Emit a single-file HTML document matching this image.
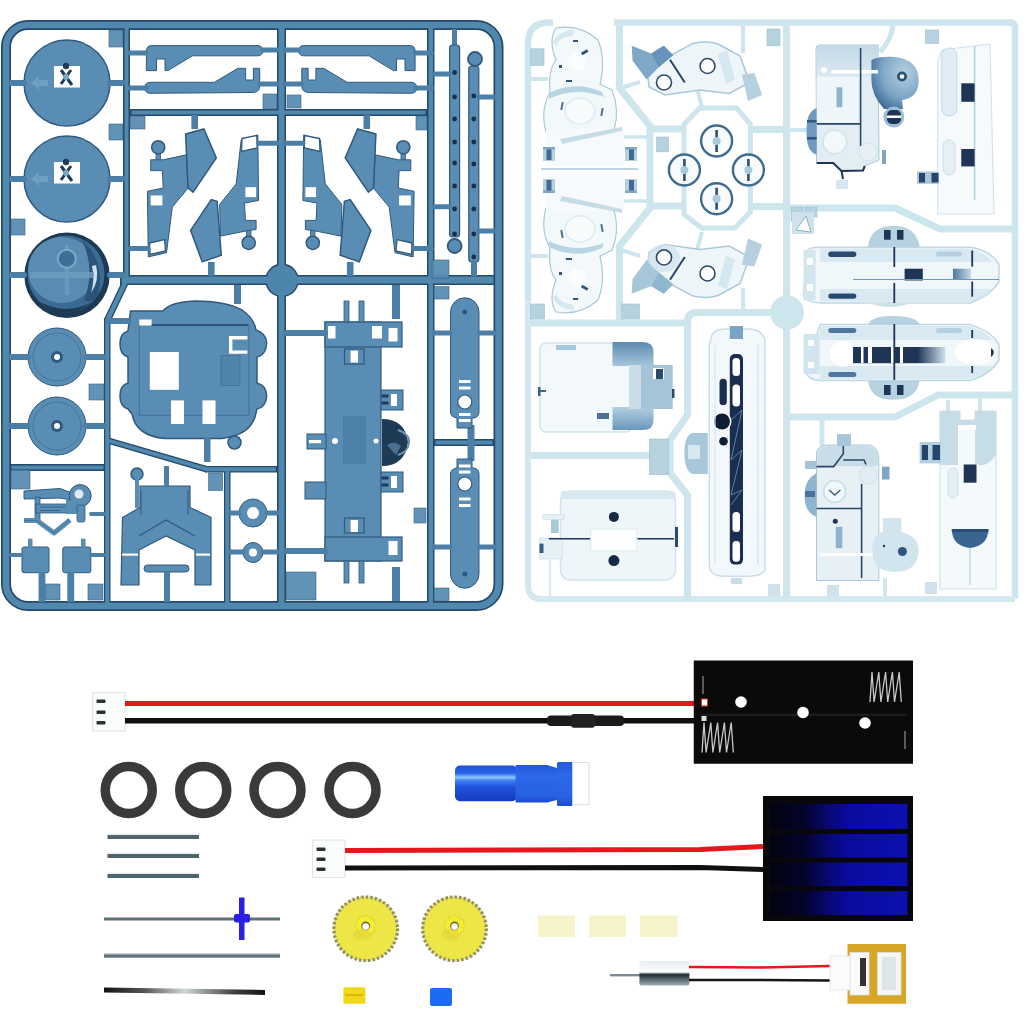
<!DOCTYPE html>
<html><head><meta charset="utf-8"><style>
html,body{margin:0;padding:0;background:#fff;}
body{width:1024px;height:1024px;overflow:hidden;font-family:"Liberation Sans",sans-serif;}
svg{display:block;}
</style></head><body>
<svg width="1024" height="1024" viewBox="0 0 1024 1024">
<rect width="1024" height="1024" fill="#fff"/>
<g id="blue">
<rect x="6" y="25" width="492.5" height="581" rx="22" fill="none" stroke="#24496a" stroke-width="10"/>
<rect x="123" y="25" width="7" height="255" fill="#24496a"/>
<rect x="104" y="318" width="6.5" height="288" fill="#24496a"/>
<rect x="120" y="275" width="375" height="10" fill="#24496a"/>
<rect x="130" y="109" width="297" height="7" fill="#24496a"/>
<rect x="277" y="25" width="9" height="581" fill="#24496a"/>
<rect x="427" y="25" width="7.5" height="581" fill="#24496a"/>
<rect x="434" y="439" width="60" height="7" fill="#24496a"/>
<rect x="10" y="464" width="95" height="7" fill="#24496a"/>
<rect x="205" y="466" width="72" height="6.5" fill="#24496a"/>
<rect x="224" y="470" width="6.5" height="136" fill="#24496a"/>
<line x1="126.5" y1="280" x2="107" y2="321" stroke="#24496a" stroke-width="7"/>
<line x1="108" y1="440.5" x2="207" y2="469.3" stroke="#24496a" stroke-width="6.5"/>
<circle cx="282" cy="280.3" r="16.8" fill="#24496a"/>
<rect x="6" y="25" width="492.5" height="581" rx="22" fill="none" stroke="#5088ae" stroke-width="6.6"/>
<rect x="124.5" y="26.5" width="4.0" height="252.0" fill="#5088ae"/>
<rect x="105.2" y="319.2" width="4.1" height="285.6" fill="#5088ae"/>
<rect x="121.5" y="276.5" width="372.0" height="7.0" fill="#5088ae"/>
<rect x="131.5" y="110.5" width="294.0" height="4.0" fill="#5088ae"/>
<rect x="278.5" y="26.5" width="6.0" height="578.0" fill="#5088ae"/>
<rect x="428.5" y="26.5" width="4.5" height="578.0" fill="#5088ae"/>
<rect x="435.5" y="440.5" width="57.0" height="4.0" fill="#5088ae"/>
<rect x="11.5" y="465.5" width="92.0" height="4.0" fill="#5088ae"/>
<rect x="206.2" y="467.2" width="69.6" height="4.1" fill="#5088ae"/>
<rect x="225.2" y="471.2" width="4.1" height="133.6" fill="#5088ae"/>
<line x1="126.5" y1="280" x2="107" y2="321" stroke="#5088ae" stroke-width="4.4"/>
<line x1="108" y1="440.5" x2="207" y2="469.3" stroke="#5088ae" stroke-width="3.9"/>
<circle cx="282" cy="280.3" r="15.4" fill="#4d85ab"/>
<rect x="109" y="30" width="14" height="17" fill="#5a8db3" stroke="#2f5a7e" stroke-width="0.6" opacity="0.95"/>
<rect x="109" y="124" width="14" height="16" fill="#5a8db3" stroke="#2f5a7e" stroke-width="0.6" opacity="0.95"/>
<rect x="11" y="219" width="14" height="16" fill="#5a8db3" stroke="#2f5a7e" stroke-width="0.6" opacity="0.95"/>
<rect x="89" y="384" width="15" height="16" fill="#5a8db3" stroke="#2f5a7e" stroke-width="0.6" opacity="0.95"/>
<rect x="130" y="116" width="15" height="13" fill="#5a8db3" stroke="#2f5a7e" stroke-width="0.6" opacity="0.95"/>
<rect x="263" y="94" width="14" height="15" fill="#5a8db3" stroke="#2f5a7e" stroke-width="0.6" opacity="0.95"/>
<rect x="287" y="95" width="14" height="13" fill="#5a8db3" stroke="#2f5a7e" stroke-width="0.6" opacity="0.95"/>
<rect x="11" y="470" width="19" height="19" fill="#5a8db3" stroke="#2f5a7e" stroke-width="0.6" opacity="0.95"/>
<rect x="45" y="584" width="15" height="16" fill="#5a8db3" stroke="#2f5a7e" stroke-width="0.6" opacity="0.95"/>
<rect x="88" y="584" width="15" height="16" fill="#5a8db3" stroke="#2f5a7e" stroke-width="0.6" opacity="0.95"/>
<rect x="286" y="572" width="30" height="28" fill="#5a8db3" stroke="#2f5a7e" stroke-width="0.6" opacity="0.95"/>
<rect x="414" y="508" width="12" height="15" fill="#5a8db3" stroke="#2f5a7e" stroke-width="0.6" opacity="0.95"/>
<rect x="436" y="30" width="0" height="0" fill="#5a8db3" stroke="#2f5a7e" stroke-width="0.6" opacity="0.95"/>
<rect x="416" y="116" width="11" height="14" fill="#5a8db3" stroke="#2f5a7e" stroke-width="0.6" opacity="0.95"/>
<circle cx="67" cy="83" r="43" fill="#5a8db3" stroke="#2f5a7e" stroke-width="1.5"/>
<rect x="54" y="66" width="26" height="21.5" fill="#fff"/>
<circle cx="66" cy="66" r="3.2" fill="#1f3b55"/>
<path d="M61,70 L72,85 M71,70 L61,84" stroke="#1f3b55" stroke-width="3"/>
<circle cx="66" cy="77" r="3" fill="#79a6c6"/>
<path d="M31,83 l8,-7 v4 h9 v6 h-9 v4 z" fill="#79a6c6" opacity="0.7"/>
<line x1="11" y1="83" x2="24" y2="83" stroke="#4b7fa5" stroke-width="6" stroke-linecap="round"/>
<line x1="110" y1="83" x2="123" y2="83" stroke="#4b7fa5" stroke-width="6" stroke-linecap="round"/>
<circle cx="67" cy="179" r="43" fill="#5a8db3" stroke="#2f5a7e" stroke-width="1.5"/>
<rect x="54" y="162" width="26" height="21.5" fill="#fff"/>
<circle cx="66" cy="162" r="3.2" fill="#1f3b55"/>
<path d="M61,166 L72,181 M71,166 L61,180" stroke="#1f3b55" stroke-width="3"/>
<circle cx="66" cy="173" r="3" fill="#79a6c6"/>
<path d="M31,179 l8,-7 v4 h9 v6 h-9 v4 z" fill="#79a6c6" opacity="0.7"/>
<line x1="11" y1="179" x2="24" y2="179" stroke="#4b7fa5" stroke-width="6" stroke-linecap="round"/>
<line x1="110" y1="179" x2="123" y2="179" stroke="#4b7fa5" stroke-width="6" stroke-linecap="round"/>
<circle cx="67" cy="275.3" r="42.7" fill="#1d3a55"/>
<circle cx="66" cy="274" r="38.5" fill="#3b6a92"/>
<ellipse cx="62" cy="270" rx="34" ry="33" fill="#5a8cb2"/>
<path d="M82,240 Q106,262 98,295 Q92,305 84,300 Q96,270 82,240 Z" fill="#2a5479"/>
<path d="M96,265 Q100,280 91,293 Q95,280 92,266 Z" fill="#cfe1ee"/>
<path d="M40,302 Q66,316 92,302 Q80,312 66,313 Q50,312 40,302 Z" fill="#1d3a55"/>
<rect x="30" y="272" width="64" height="6" fill="#6e9cc0" opacity="0.8"/>
<rect x="64.8" y="245" width="4" height="50" fill="#6e9cc0" opacity="0.8"/>
<circle cx="66.8" cy="258.8" r="9" fill="#3f6e96" stroke="#7ea9c9" stroke-width="2"/>
<line x1="11" y1="275" x2="24" y2="275" stroke="#4b7fa5" stroke-width="6" stroke-linecap="round"/>
<line x1="110" y1="275" x2="123" y2="275" stroke="#4b7fa5" stroke-width="6" stroke-linecap="round"/>
<circle cx="57" cy="357" r="29" fill="#5a8db3" stroke="#2f5a7e" stroke-width="1"/>
<circle cx="57" cy="357" r="24" fill="none" stroke="#2f5a7e" stroke-width="0.8" opacity="0.6"/>
<circle cx="57" cy="357" r="6" fill="#2f5a7e"/>
<circle cx="57" cy="357" r="3" fill="#fff"/>
<line x1="10" y1="357" x2="28" y2="357" stroke="#4b7fa5" stroke-width="6" stroke-linecap="round"/>
<line x1="86" y1="357" x2="104" y2="357" stroke="#4b7fa5" stroke-width="6" stroke-linecap="round"/>
<circle cx="57" cy="426" r="29" fill="#5a8db3" stroke="#2f5a7e" stroke-width="1"/>
<circle cx="57" cy="426" r="24" fill="none" stroke="#2f5a7e" stroke-width="0.8" opacity="0.6"/>
<circle cx="57" cy="426" r="6" fill="#2f5a7e"/>
<circle cx="57" cy="426" r="3" fill="#fff"/>
<line x1="10" y1="426" x2="28" y2="426" stroke="#4b7fa5" stroke-width="6" stroke-linecap="round"/>
<line x1="86" y1="426" x2="104" y2="426" stroke="#4b7fa5" stroke-width="6" stroke-linecap="round"/>
<path d="M146.4,51 Q146.4,45.6 152,45.6 L258,45.6 A5,5 0 0 1 258,55.8 L192.5,55.8 L168,70.6 L165,70.6 L165,59 L156.5,59 L156.5,70.6 L146.4,70.6 Z" fill="#5a8db3" stroke="#2f5a7e" stroke-width="1"/>
<path d="M150,82.3 L214.4,82.3 L237.8,68.3 L245.6,68.3 L245.6,80 L253.4,80 L253.4,68.3 L259.7,68.3 L259.7,86 Q259.7,92.5 252,92.5 L150,93.3 A5.5,5.5 0 0 1 150,82.3 Z" fill="#5a8db3" stroke="#2f5a7e" stroke-width="1"/>
<line x1="130" y1="53" x2="146" y2="53" stroke="#4b7fa5" stroke-width="5" stroke-linecap="round"/>
<line x1="263" y1="50" x2="277" y2="50" stroke="#4b7fa5" stroke-width="5" stroke-linecap="round"/>
<line x1="130" y1="88" x2="146" y2="88" stroke="#4b7fa5" stroke-width="5" stroke-linecap="round"/>
<line x1="260" y1="84" x2="277" y2="84" stroke="#4b7fa5" stroke-width="5" stroke-linecap="round"/>
<rect x="156" y="150" width="4.5" height="11" fill="#5a8db3" stroke="#2f5a7e" stroke-width="0.8"/>
<rect x="246.5" y="229" width="4.5" height="10" fill="#5a8db3" stroke="#2f5a7e" stroke-width="0.8"/>
<circle cx="158.2" cy="147.3" r="6.6" fill="#5a8db3" stroke="#2f5a7e" stroke-width="1.5"/>
<polygon points="150.7,159.8 163.2,159.8 186.4,154.8 188.1,188 172.3,207.1 166.5,252.7 148.3,256.9 147.4,191.3 163.2,188 162.4,170.6 150.7,170.6" fill="#5a8db3" stroke="#2f5a7e" stroke-width="1"/>
<rect x="150.7" y="195.5" width="11.7" height="9.9" fill="#fff"/>
<polygon points="149.5,243 164.5,239.5 165.5,251 150,254.4" fill="#fff" stroke="#2f5a7e" stroke-width="1.3"/>
<polygon points="185.6,134 203.9,129 216.3,158 193.1,192.2 188,188" fill="#5a8db3" stroke="#2f5a7e" stroke-width="1.5"/>
<rect x="191.4" y="115" width="6.6" height="14" fill="#4b7fa5"/>
<polygon points="241.2,139.9 257.8,134.9 258.6,200.5 244.5,203 245.4,220.4 256.1,220.4 256.1,229.5 249.5,230.3 220.5,236.1 219.6,204.6 236.2,183.9" fill="#5a8db3" stroke="#2f5a7e" stroke-width="1"/>
<circle cx="248.7" cy="242.8" r="6.6" fill="#5a8db3" stroke="#2f5a7e" stroke-width="1.5"/>
<polygon points="242,138.5 256.8,135.5 257.2,148 241.5,151.5" fill="#fff" stroke="#2f5a7e" stroke-width="1.3"/>
<rect x="245.4" y="187.2" width="10.7" height="9.9" fill="#fff"/>
<polygon points="190.6,230.3 211.3,199.6 217.1,201.3 221.3,255.2 202.2,261.9" fill="#5a8db3" stroke="#2f5a7e" stroke-width="1.5"/>
<rect x="208" y="262" width="6.6" height="14" fill="#4b7fa5"/>
<line x1="130" y1="248.6" x2="148" y2="248.6" stroke="#4b7fa5" stroke-width="5" stroke-linecap="round"/>
<line x1="258.6" y1="143.2" x2="277" y2="143.2" stroke="#4b7fa5" stroke-width="5" stroke-linecap="round"/>
<g transform="translate(561.5,0) scale(-1,1)"><path d="M146.4,51 Q146.4,45.6 152,45.6 L258,45.6 A5,5 0 0 1 258,55.8 L192.5,55.8 L168,70.6 L165,70.6 L165,59 L156.5,59 L156.5,70.6 L146.4,70.6 Z" fill="#5a8db3" stroke="#2f5a7e" stroke-width="1"/>
<path d="M150,82.3 L214.4,82.3 L237.8,68.3 L245.6,68.3 L245.6,80 L253.4,80 L253.4,68.3 L259.7,68.3 L259.7,86 Q259.7,92.5 252,92.5 L150,93.3 A5.5,5.5 0 0 1 150,82.3 Z" fill="#5a8db3" stroke="#2f5a7e" stroke-width="1"/>
<line x1="130" y1="53" x2="146" y2="53" stroke="#4b7fa5" stroke-width="5" stroke-linecap="round"/>
<line x1="263" y1="50" x2="277" y2="50" stroke="#4b7fa5" stroke-width="5" stroke-linecap="round"/>
<line x1="130" y1="88" x2="146" y2="88" stroke="#4b7fa5" stroke-width="5" stroke-linecap="round"/>
<line x1="260" y1="84" x2="277" y2="84" stroke="#4b7fa5" stroke-width="5" stroke-linecap="round"/><rect x="156" y="150" width="4.5" height="11" fill="#5a8db3" stroke="#2f5a7e" stroke-width="0.8"/>
<rect x="246.5" y="229" width="4.5" height="10" fill="#5a8db3" stroke="#2f5a7e" stroke-width="0.8"/>
<circle cx="158.2" cy="147.3" r="6.6" fill="#5a8db3" stroke="#2f5a7e" stroke-width="1.5"/>
<polygon points="150.7,159.8 163.2,159.8 186.4,154.8 188.1,188 172.3,207.1 166.5,252.7 148.3,256.9 147.4,191.3 163.2,188 162.4,170.6 150.7,170.6" fill="#5a8db3" stroke="#2f5a7e" stroke-width="1"/>
<rect x="150.7" y="195.5" width="11.7" height="9.9" fill="#fff"/>
<polygon points="149.5,243 164.5,239.5 165.5,251 150,254.4" fill="#fff" stroke="#2f5a7e" stroke-width="1.3"/>
<polygon points="185.6,134 203.9,129 216.3,158 193.1,192.2 188,188" fill="#5a8db3" stroke="#2f5a7e" stroke-width="1.5"/>
<rect x="191.4" y="115" width="6.6" height="14" fill="#4b7fa5"/>
<polygon points="241.2,139.9 257.8,134.9 258.6,200.5 244.5,203 245.4,220.4 256.1,220.4 256.1,229.5 249.5,230.3 220.5,236.1 219.6,204.6 236.2,183.9" fill="#5a8db3" stroke="#2f5a7e" stroke-width="1"/>
<circle cx="248.7" cy="242.8" r="6.6" fill="#5a8db3" stroke="#2f5a7e" stroke-width="1.5"/>
<polygon points="242,138.5 256.8,135.5 257.2,148 241.5,151.5" fill="#fff" stroke="#2f5a7e" stroke-width="1.3"/>
<rect x="245.4" y="187.2" width="10.7" height="9.9" fill="#fff"/>
<polygon points="190.6,230.3 211.3,199.6 217.1,201.3 221.3,255.2 202.2,261.9" fill="#5a8db3" stroke="#2f5a7e" stroke-width="1.5"/>
<rect x="208" y="262" width="6.6" height="14" fill="#4b7fa5"/>
<line x1="130" y1="248.6" x2="148" y2="248.6" stroke="#4b7fa5" stroke-width="5" stroke-linecap="round"/>
<line x1="258.6" y1="143.2" x2="277" y2="143.2" stroke="#4b7fa5" stroke-width="5" stroke-linecap="round"/></g>
<rect x="452" y="29" width="5" height="17" fill="#4b7fa5"/>
<rect x="449.6" y="45" width="10" height="192" rx="3" fill="#5a8db3" stroke="#2f5a7e" stroke-width="1.2"/>
<circle cx="454.6" cy="246" r="7" fill="#5a8db3" stroke="#2f5a7e" stroke-width="1.8"/>
<rect x="468.8" y="66" width="10" height="196" rx="3" fill="#5a8db3" stroke="#2f5a7e" stroke-width="1.2"/>
<circle cx="475" cy="59" r="7" fill="#5a8db3" stroke="#2f5a7e" stroke-width="1.8"/>
<rect x="471" y="261" width="6" height="15" fill="#4b7fa5"/>
<circle cx="454.6" cy="72.5" r="2.4" fill="#17314a"/>
<circle cx="454.6" cy="97" r="2.4" fill="#17314a"/>
<circle cx="454.6" cy="119" r="2.4" fill="#17314a"/>
<circle cx="454.6" cy="142" r="2.4" fill="#17314a"/>
<circle cx="454.6" cy="163" r="2.4" fill="#17314a"/>
<circle cx="454.6" cy="186" r="2.4" fill="#17314a"/>
<circle cx="454.6" cy="209" r="2.4" fill="#17314a"/>
<circle cx="454.6" cy="234" r="2.4" fill="#17314a"/>
<circle cx="473.8" cy="96" r="2.4" fill="#17314a"/>
<circle cx="473.8" cy="119" r="2.4" fill="#17314a"/>
<circle cx="473.8" cy="142" r="2.4" fill="#17314a"/>
<circle cx="473.8" cy="164" r="2.4" fill="#17314a"/>
<circle cx="473.8" cy="186" r="2.4" fill="#17314a"/>
<circle cx="473.8" cy="209" r="2.4" fill="#17314a"/>
<circle cx="473.8" cy="234" r="2.4" fill="#17314a"/>
<circle cx="473.8" cy="257" r="2.4" fill="#17314a"/>
<line x1="434" y1="74" x2="449" y2="74" stroke="#4b7fa5" stroke-width="5" stroke-linecap="round"/>
<line x1="434" y1="206.7" x2="449" y2="206.7" stroke="#4b7fa5" stroke-width="5" stroke-linecap="round"/>
<line x1="479" y1="97" x2="494" y2="97" stroke="#4b7fa5" stroke-width="5" stroke-linecap="round"/>
<line x1="479" y1="231" x2="494" y2="231" stroke="#4b7fa5" stroke-width="5" stroke-linecap="round"/>
<rect x="432" y="260" width="17" height="18" fill="#5a8db3" stroke="#2f5a7e" stroke-width="0.6" opacity="0.95"/>
<rect x="434" y="286.5" width="15" height="12.5" fill="#5a8db3" stroke="#2f5a7e" stroke-width="0.6" opacity="0.95"/>
<rect x="434" y="588" width="15" height="12.5" fill="#5a8db3" stroke="#2f5a7e" stroke-width="0.6" opacity="0.95"/>
<rect x="467.5" y="425" width="7" height="36" fill="#4b7fa5" />
<path d="M450.5,312 A14.25,14.25 0 0 1 479,312 L479,412 Q479,417 474,418 L472,418 L472,428 L457,428 L457,418 Q450.5,417 450.5,412 Z" fill="#5a8db3" stroke="#2f5a7e" stroke-width="1"/>
<path d="M450.5,574 A14.25,14.25 0 0 0 479,574 L479,474 Q479,469 474,468 L472,468 L472,459 L457,459 L457,468 Q450.5,469 450.5,474 Z" fill="#5a8db3" stroke="#2f5a7e" stroke-width="1"/>
<circle cx="464.8" cy="312" r="2.5" fill="#2f5a7e"/>
<circle cx="464.8" cy="574" r="2.5" fill="#2f5a7e"/>
<circle cx="464.8" cy="402" r="7" fill="#fff" stroke="#2f5a7e" stroke-width="1.2"/>
<circle cx="464.8" cy="484" r="7" fill="#fff" stroke="#2f5a7e" stroke-width="1.2"/>
<rect x="459" y="380" width="11.5" height="3" fill="#fff"/>
<rect x="459" y="386.5" width="11.5" height="3" fill="#fff"/>
<rect x="459" y="413" width="11.5" height="3" fill="#fff"/>
<rect x="459" y="419" width="11.5" height="3" fill="#fff"/>
<rect x="459" y="464.5" width="11.5" height="3" fill="#fff"/>
<rect x="459" y="470.5" width="11.5" height="3" fill="#fff"/>
<rect x="459" y="497.5" width="11.5" height="3" fill="#fff"/>
<rect x="459" y="504" width="11.5" height="3" fill="#fff"/>
<line x1="434" y1="333" x2="450" y2="333" stroke="#4b7fa5" stroke-width="5" stroke-linecap="round"/>
<line x1="479" y1="333" x2="494" y2="333" stroke="#4b7fa5" stroke-width="5" stroke-linecap="round"/>
<line x1="434" y1="547" x2="450" y2="547" stroke="#4b7fa5" stroke-width="5" stroke-linecap="round"/>
<line x1="479" y1="547" x2="494" y2="547" stroke="#4b7fa5" stroke-width="5" stroke-linecap="round"/>
<path d="M130.5,311 L163,311 Q170,302 195,301 Q225,301 242,310 Q254,318 256,330 Q266,333 266.7,343 Q266,355 257,357 L257,383 Q266,385 266.7,396 Q266,407 257,409 L256,413 Q252,435 222,438.5 L165,438.5 Q136,436 132,414 L128,409 Q120,407 120,396 Q120,385 128,383 L128,357 Q120,355 120,344 Q120,333 128,331 Z" fill="#5a8db3" stroke="#2f5a7e" stroke-width="1.5"/>
<rect x="139.3" y="324.8" width="109.7" height="90.5" fill="none" stroke="#2f5a7e" stroke-width="1" opacity="0.55"/>
<line x1="151" y1="325" x2="248" y2="325" stroke="#24496a" stroke-width="1.5"/>
<rect x="221" y="355.6" width="19" height="30" fill="#5083a9" stroke="#2f5a7e" stroke-width="0.5" opacity="0.8"/>
<rect x="149.8" y="352" width="29" height="37.8" fill="#fff"/>
<path d="M229,336 h18.4 v3.4 h-15 v11 h15 v3.4 h-18.4 z" fill="#fff"/>
<rect x="171" y="400.4" width="13" height="23.6" fill="#fff"/>
<rect x="202.5" y="400.4" width="13" height="23.6" fill="#fff"/>
<rect x="139.3" y="319.5" width="12.3" height="6" fill="#fff"/>
<rect x="234" y="285" width="7" height="19" fill="#4b7fa5"/>
<rect x="235.5" y="437" width="4" height="6" fill="#5a8db3"/>
<circle cx="234.5" cy="442.5" r="6.5" fill="#5a8db3" stroke="#2f5a7e" stroke-width="1.5"/>
<rect x="204" y="438" width="6.5" height="24" fill="#4b7fa5"/>
<line x1="108.5" y1="321" x2="128.7" y2="321" stroke="#4b7fa5" stroke-width="6" stroke-linecap="round"/>
<rect x="325" y="322" width="56" height="239" fill="#5a8db3" stroke="#2f5a7e" stroke-width="1.2"/>
<rect x="325" y="322" width="77" height="25" fill="#5a8db3" stroke="#2f5a7e" stroke-width="1.2"/>
<rect x="325" y="537" width="77" height="24" fill="#5a8db3" stroke="#2f5a7e" stroke-width="1.2"/>
<rect x="344.5" y="349" width="19.5" height="15" fill="#5a8db3" stroke="#2f5a7e" stroke-width="1.2"/>
<rect x="344.5" y="518" width="19.5" height="15" fill="#5a8db3" stroke="#2f5a7e" stroke-width="1.2"/>
<rect x="328" y="326" width="7.5" height="12.5" fill="#fff"/>
<rect x="372" y="326" width="10" height="12.5" fill="#fff"/>
<rect x="388.5" y="328" width="9" height="13.5" fill="#fff"/>
<rect x="388.5" y="541" width="9" height="14" fill="#fff"/>
<rect x="350.6" y="350.6" width="7.4" height="12" fill="#fff"/>
<rect x="350.6" y="520" width="7.4" height="12" fill="#fff"/>
<rect x="381" y="390" width="22" height="20" fill="#5a8db3" stroke="#2f5a7e" stroke-width="1"/>
<rect x="391" y="394" width="6" height="12" fill="#fff"/>
<rect x="381.5" y="394.5" width="7" height="3" fill="#1e3d5a"/><rect x="381.5" y="401.5" width="7" height="3" fill="#1e3d5a"/>
<rect x="381" y="472" width="22" height="20" fill="#5a8db3" stroke="#2f5a7e" stroke-width="1"/>
<rect x="391" y="476" width="6" height="12" fill="#fff"/>
<rect x="381.5" y="476.5" width="7" height="3" fill="#1e3d5a"/><rect x="381.5" y="483.5" width="7" height="3" fill="#1e3d5a"/>
<path d="M382,419 Q405,419 408,442 Q405,466 382,466 Z" fill="#1f3a55"/>
<path d="M398,430 Q410,434 409,443 Q408,452 398,455" fill="none" stroke="#6f97b8" stroke-width="2"/>
<path d="M387,445 Q395,440 401,446 L396,455 Z" fill="#4a6f92"/>
<rect x="343" y="416" width="23" height="48" fill="#4e81a7"/>
<rect x="307" y="434" width="19" height="15" fill="#5a8db3" stroke="#2f5a7e" stroke-width="1"/>
<rect x="309" y="440" width="12" height="3.2" fill="#fff"/>
<rect x="305" y="482" width="21" height="17" fill="#5a8db3" stroke="#2f5a7e" stroke-width="1"/>
<rect x="344" y="301" width="5" height="21" fill="#5a8db3" stroke="#2f5a7e" stroke-width="0.8"/>
<rect x="344" y="561" width="5" height="22" fill="#5a8db3" stroke="#2f5a7e" stroke-width="0.8"/>
<rect x="359" y="301" width="5" height="21" fill="#5a8db3" stroke="#2f5a7e" stroke-width="0.8"/>
<rect x="359" y="561" width="5" height="22" fill="#5a8db3" stroke="#2f5a7e" stroke-width="0.8"/>
<circle cx="335" cy="441" r="3" fill="#fff"/><circle cx="376" cy="441" r="2.5" fill="#fff"/>
<line x1="286" y1="333" x2="325" y2="333" stroke="#4b7fa5" stroke-width="6" stroke-linecap="round"/>
<line x1="286" y1="551" x2="325" y2="551" stroke="#4b7fa5" stroke-width="6" stroke-linecap="round"/>
<rect x="392" y="285" width="8" height="34" fill="#4b7fa5" />
<rect x="392" y="567" width="8" height="34" fill="#4b7fa5" />
<polygon points="122.5,517.5 140,507.5 140,486 190,486 190,507.5 211,517.5 211,585 195,585 195,550 166,536 139,550 139,585 121,585" fill="#5a8db3" stroke="#2f5a7e" stroke-width="1.2"/>
<polyline points="139,536 166,520 195,536" fill="none" stroke="#2f5a7e" stroke-width="1.2"/>
<rect x="144" y="565" width="45" height="7" rx="3.5" fill="#5a8db3" stroke="#2f5a7e" stroke-width="1"/>
<rect x="122" y="553.5" width="16" height="2.2" fill="#fff"/><rect x="196" y="553.5" width="14" height="2.2" fill="#fff"/>
<line x1="141" y1="490" x2="141" y2="515" stroke="#2f5a7e" stroke-width="1"/><line x1="188" y1="490" x2="188" y2="515" stroke="#2f5a7e" stroke-width="1"/>
<rect x="208.6" y="473" width="14" height="17.5" fill="#5a8db3" stroke="#2f5a7e" stroke-width="0.6" opacity="0.95"/>
<rect x="164" y="572" width="6" height="30" fill="#4b7fa5" />
<circle cx="137" cy="474" r="6" fill="#5a8db3" stroke="#2f5a7e" stroke-width="1.5"/>
<rect x="135" y="478" width="4" height="30" fill="#5a8db3" />
<rect x="164" y="466" width="5" height="20" fill="#4b7fa5" />
<circle cx="253" cy="513" r="14" fill="#5a8db3" stroke="#2f5a7e" stroke-width="1"/><circle cx="253" cy="513" r="6" fill="#fff"/>
<circle cx="253" cy="552.5" r="10" fill="#5a8db3" stroke="#2f5a7e" stroke-width="1"/><circle cx="253" cy="552.5" r="4" fill="#fff"/>
<line x1="230" y1="513" x2="239" y2="513" stroke="#4b7fa5" stroke-width="5" stroke-linecap="round"/>
<line x1="267" y1="513" x2="277" y2="513" stroke="#4b7fa5" stroke-width="5" stroke-linecap="round"/>
<line x1="230" y1="552" x2="243" y2="552" stroke="#4b7fa5" stroke-width="5" stroke-linecap="round"/>
<line x1="263" y1="552" x2="277" y2="552" stroke="#4b7fa5" stroke-width="5" stroke-linecap="round"/>
<polygon points="24,491 60,488.5 72,493 72,500 60,498 24,499" fill="#5a8db3" stroke="#2f5a7e" stroke-width="1"/>
<circle cx="80.2" cy="495.6" r="11" fill="#5a8db3" stroke="#2f5a7e" stroke-width="1"/><circle cx="79" cy="494" r="4.5" fill="#dfeaf2"/>
<rect x="35" y="497" width="5" height="25" fill="#5a8db3" stroke="#2f5a7e" stroke-width="0.8"/>
<rect x="36" y="504" width="34" height="9" fill="#5a8db3" stroke="#2f5a7e" stroke-width="0.8"/>
<line x1="40" y1="507" x2="68" y2="507" stroke="#2f5a7e" stroke-width="0.8"/><line x1="40" y1="510.5" x2="60" y2="510.5" stroke="#2f5a7e" stroke-width="0.8"/>
<polyline points="24,520.5 37,520.5 54,533 70,520" fill="none" stroke="#5a8db3" stroke-width="5" stroke-linejoin="round"/>
<polyline points="24,520.5 37,520.5 54,533 70,520" fill="none" stroke="#2f5a7e" stroke-width="0.8" opacity="0.6"/>
<rect x="66" y="500" width="12" height="14" fill="#5a8db3"/>
<rect x="77" y="505" width="8" height="17" rx="2" fill="#5a8db3" stroke="#2f5a7e" stroke-width="0.8"/>
<rect x="22" y="547" width="27" height="25.7" rx="2" fill="#5a8db3" stroke="#2f5a7e" stroke-width="1"/>
<rect x="62.8" y="547" width="28" height="25.7" rx="2" fill="#5a8db3" stroke="#2f5a7e" stroke-width="1"/>
<rect x="28" y="538.7" width="4.5" height="9" fill="#5a8db3" />
<rect x="81" y="538.7" width="4.5" height="9" fill="#5a8db3" />
<rect x="38.6" y="572" width="6.8" height="30" fill="#4b7fa5" />
<rect x="67.3" y="572" width="6.9" height="30" fill="#4b7fa5" />
<line x1="10" y1="555" x2="22" y2="555" stroke="#4b7fa5" stroke-width="4" stroke-linecap="round"/>
<line x1="91" y1="555" x2="104" y2="555" stroke="#4b7fa5" stroke-width="4" stroke-linecap="round"/>
<line x1="91" y1="514" x2="104" y2="514" stroke="#4b7fa5" stroke-width="4" stroke-linecap="round"/>
</g>
<g id="white">
<path d="M528,300 L528,44 Q528,22.5 549,22.5 L553,22.5" fill="none" stroke="#cde5ed" stroke-width="6.5"/>
<path d="M614,22.5 L1010,22.5 Q1015,22.5 1015,28 L1015,598.5" fill="none" stroke="#cde5ed" stroke-width="6.5"/>
<path d="M1015,599 L542,599 Q528,599 528,585 L528,300" fill="none" stroke="#d3e8ef" stroke-width="6"/>
<polyline points="619.5,26 619.5,88 650,126 650,208 619.5,246 619.5,323" fill="none" stroke="#cde5ed" stroke-width="7" stroke-linejoin="round"/>
<polyline points="531,323 687.5,323 687.5,415 670,440 670,473 687.5,495 687.5,598" fill="none" stroke="#cde5ed" stroke-width="7" stroke-linejoin="round"/>
<path d="M687.5,325 L687.5,322 Q687.5,312.5 697,312.5 L785,312.5" fill="none" stroke="#cde5ed" stroke-width="7"/>
<polyline points="650,129 684,129" fill="none" stroke="#cde5ed" stroke-width="7" stroke-linejoin="round"/>
<polyline points="650,206 684,206" fill="none" stroke="#cde5ed" stroke-width="7" stroke-linejoin="round"/>
<polygon points="699.6,108 736.7,108 750.4,124.5 750.4,212 734.8,228 701.6,228 684,214.3 684,124.5" fill="none" stroke="#cde5ed" stroke-width="5"/>
<polyline points="750,129.5 787,129.5" fill="none" stroke="#cde5ed" stroke-width="7" stroke-linejoin="round"/>
<polyline points="750,206.5 787,206.5" fill="none" stroke="#cde5ed" stroke-width="7" stroke-linejoin="round"/>
<polyline points="786.5,26 786.5,598" fill="none" stroke="#cde5ed" stroke-width="7" stroke-linejoin="round"/>
<polyline points="787,208 895,208 940,229 1015,229" fill="none" stroke="#cde5ed" stroke-width="7" stroke-linejoin="round"/>
<polyline points="787,417 895,417 938,395 1015,395" fill="none" stroke="#cde5ed" stroke-width="7" stroke-linejoin="round"/>
<polyline points="531,455.5 652,455.5" fill="none" stroke="#cde5ed" stroke-width="7" stroke-linejoin="round"/>
<polyline points="550,560 550,598" fill="none" stroke="#d8ebf1" stroke-width="2.5" stroke-linejoin="round"/>
<path d="M893,26 Q891,40 880,52" fill="none" stroke="#cde5ed" stroke-width="5"/>
<polyline points="822,417 822,446" fill="none" stroke="#cde5ed" stroke-width="5" stroke-linejoin="round"/>
<polyline points="948,400 948,412" fill="none" stroke="#cde5ed" stroke-width="4" stroke-linejoin="round"/>
<polyline points="980,395 980,412" fill="none" stroke="#cde5ed" stroke-width="4" stroke-linejoin="round"/>
<polyline points="885,578 885,596" fill="none" stroke="#cde5ed" stroke-width="4" stroke-linejoin="round"/>
<polyline points="743,26 743,53" fill="none" stroke="#cde5ed" stroke-width="4" stroke-linejoin="round"/>
<polyline points="697,88 702,107" fill="none" stroke="#cde5ed" stroke-width="4" stroke-linejoin="round"/>
<polyline points="621,88 640,82" fill="none" stroke="#cde5ed" stroke-width="4" stroke-linejoin="round"/>
<polyline points="621,250 640,256" fill="none" stroke="#cde5ed" stroke-width="4" stroke-linejoin="round"/>
<polyline points="697,250 702,232" fill="none" stroke="#cde5ed" stroke-width="4" stroke-linejoin="round"/>
<polyline points="743,288 743,312" fill="none" stroke="#cde5ed" stroke-width="4" stroke-linejoin="round"/>
<polyline points="531,79 548,79" fill="none" stroke="#cde5ed" stroke-width="4" stroke-linejoin="round"/>
<polyline points="531,256 548,256" fill="none" stroke="#cde5ed" stroke-width="4" stroke-linejoin="round"/>
<polyline points="787,130 810,130" fill="none" stroke="#cde5ed" stroke-width="4" stroke-linejoin="round"/>
<polyline points="787,315 803,315" fill="none" stroke="#cde5ed" stroke-width="4" stroke-linejoin="round"/>
<circle cx="787" cy="312.5" r="17" fill="#cde5ed"/>
<rect x="530.6" y="48.8" width="13.4" height="16.7" fill="#b7d2df" stroke="#9dbfd2" stroke-width="0.6"/>
<rect x="530.6" y="304" width="14" height="15" fill="#b7d2df" stroke="#9dbfd2" stroke-width="0.6"/>
<rect x="621.6" y="304" width="18" height="15" fill="#b7d2df" stroke="#9dbfd2" stroke-width="0.6"/>
<rect x="767" y="29" width="13" height="16.8" fill="#b7d2df" stroke="#9dbfd2" stroke-width="0.6"/>
<rect x="925.4" y="30" width="13.3" height="13.3" fill="#b7d2df" stroke="#9dbfd2" stroke-width="0.6"/>
<rect x="656.6" y="137" width="11.8" height="14.8" fill="#b7d2df" stroke="#9dbfd2" stroke-width="0.6"/>
<rect x="649.4" y="439" width="19.2" height="35.5" fill="#b7d2df" stroke="#9dbfd2" stroke-width="0.6"/>
<rect x="791" y="207" width="12" height="14" fill="#b7d2df" stroke="#9dbfd2" stroke-width="0.6"/>
<rect x="805" y="207" width="12" height="10" fill="#b7d2df" stroke="#9dbfd2" stroke-width="0.6"/>
<circle cx="716.6" cy="141" r="15.5" fill="#f7fbfc" stroke="#3f6a90" stroke-width="2.4"/>
<rect x="715.3000000000001" y="130" width="2.6" height="22" fill="#2d4f72"/>
<circle cx="716.6" cy="141" r="4" fill="#a9cadb"/>
<circle cx="684.4" cy="170" r="15.5" fill="#f7fbfc" stroke="#3f6a90" stroke-width="2.4"/>
<rect x="683.1" y="159" width="2.6" height="22" fill="#2d4f72"/>
<circle cx="684.4" cy="170" r="4" fill="#a9cadb"/>
<circle cx="748.4" cy="170" r="15.5" fill="#f7fbfc" stroke="#3f6a90" stroke-width="2.4"/>
<rect x="747.1" y="159" width="2.6" height="22" fill="#2d4f72"/>
<circle cx="748.4" cy="170" r="4" fill="#a9cadb"/>
<circle cx="716.6" cy="198.7" r="15.5" fill="#f7fbfc" stroke="#3f6a90" stroke-width="2.4"/>
<rect x="715.3000000000001" y="187.7" width="2.6" height="22" fill="#2d4f72"/>
<circle cx="716.6" cy="198.7" r="4" fill="#a9cadb"/>
<path d="M556,28 Q580,24 598,40 Q606,60 600,84 L612,90 Q620,110 614,130 L546,132 Q540,110 550,92 Q548,70 556,60 Q548,40 556,28 Z" fill="#f3f9fb" stroke="#a9c9da" stroke-width="1.2"/>
<path d="M549,93 Q575,80 602,92 L604,97 Q575,86 549,99 Z" fill="#b9d5e2"/>
<ellipse cx="580" cy="111" rx="15" ry="13" fill="#f7fbfc" stroke="#dcebf1" stroke-width="1.5"/>
<path d="M546,129 L624,129 L624,166 L546,166 Z" fill="#f6fafc"/>
<path d="M560,139 L622,127 L622,131 L562,144 Z" fill="#c6dde8"/>
<path d="M553,42 Q560,30 575,30 L572,36 Q560,36 556,46 Z" fill="#d5e7ef"/>
<circle cx="577" cy="62" r="9" fill="#fbfdfe"/>
<rect x="543" y="147" width="12" height="14" fill="#b5d0df"/><rect x="546.5" y="149" width="5" height="11" fill="#3f6a92"/><rect x="543" y="147" width="12" height="2.5" fill="#7fa6c4"/>
<rect x="625" y="147" width="12" height="14" fill="#b5d0df"/><rect x="629" y="149" width="5" height="11" fill="#3f6a92"/><rect x="625" y="147" width="12" height="2.5" fill="#7fa6c4"/>
<rect x="573" y="40" width="5" height="2" fill="#33557a"/><rect x="581" y="51" width="7" height="3" fill="#33557a" transform="rotate(-30 584 52)"/>
<rect x="559" y="65" width="3" height="3" fill="#33557a"/><rect x="566" y="80" width="6" height="2" fill="#33557a"/>
<rect x="561" y="102" width="2" height="8" fill="#4a6f92" transform="rotate(10 562 106)"/><rect x="601" y="108" width="2" height="8" fill="#4a6f92" transform="rotate(10 602 112)"/>
<g transform="translate(0,340) scale(1,-1)"><path d="M556,28 Q580,24 598,40 Q606,60 600,84 L612,90 Q620,110 614,130 L546,132 Q540,110 550,92 Q548,70 556,60 Q548,40 556,28 Z" fill="#f3f9fb" stroke="#a9c9da" stroke-width="1.2"/>
<path d="M549,93 Q575,80 602,92 L604,97 Q575,86 549,99 Z" fill="#b9d5e2"/>
<ellipse cx="580" cy="111" rx="15" ry="13" fill="#f7fbfc" stroke="#dcebf1" stroke-width="1.5"/>
<path d="M546,129 L624,129 L624,166 L546,166 Z" fill="#f6fafc"/>
<path d="M560,139 L622,127 L622,131 L562,144 Z" fill="#c6dde8"/>
<path d="M553,42 Q560,30 575,30 L572,36 Q560,36 556,46 Z" fill="#d5e7ef"/>
<circle cx="577" cy="62" r="9" fill="#fbfdfe"/>
<rect x="543" y="147" width="12" height="14" fill="#b5d0df"/><rect x="546.5" y="149" width="5" height="11" fill="#3f6a92"/><rect x="543" y="147" width="12" height="2.5" fill="#7fa6c4"/>
<rect x="625" y="147" width="12" height="14" fill="#b5d0df"/><rect x="629" y="149" width="5" height="11" fill="#3f6a92"/><rect x="625" y="147" width="12" height="2.5" fill="#7fa6c4"/>
<rect x="573" y="40" width="5" height="2" fill="#33557a"/><rect x="581" y="51" width="7" height="3" fill="#33557a" transform="rotate(-30 584 52)"/>
<rect x="559" y="65" width="3" height="3" fill="#33557a"/><rect x="566" y="80" width="6" height="2" fill="#33557a"/>
<rect x="561" y="102" width="2" height="8" fill="#4a6f92" transform="rotate(10 562 106)"/><rect x="601" y="108" width="2" height="8" fill="#4a6f92" transform="rotate(10 602 112)"/></g>
<rect x="541" y="168" width="97" height="2" fill="#b9d3e0"/>
<polyline points="624,137 650,137" fill="none" stroke="#cde5ed" stroke-width="3.5" stroke-linejoin="round"/>
<polyline points="624,201 650,201" fill="none" stroke="#cde5ed" stroke-width="3.5" stroke-linejoin="round"/>
<path d="M647,68 L693,43.4 Q710,40 720,45 L740,56 L749.7,82.5 L729,93.4 L700,90 L665,95 L649,87 Z" fill="#eef6f9" stroke="#a9c9da" stroke-width="1.5"/>
<polygon points="631.7,45.8 651.25,53.6 663.75,45.8 673.1,55.2 659,66.9 646.6,79.4 632.5,60.6" fill="#7fa8c8"/>
<polygon points="651.25,53.6 663.75,45.8 673.1,55.2 659,66.9" fill="#6693bb"/>
<line x1="670" y1="59.8" x2="684.8" y2="82.5" stroke="#24446a" stroke-width="2"/>
<circle cx="664" cy="82.5" r="7.5" fill="#fff" stroke="#2d4a6c" stroke-width="1.6"/>
<circle cx="707.5" cy="66" r="7.5" fill="#fff" stroke="#2d4a6c" stroke-width="1.6"/>
<polygon points="741.9,74.7 754.4,73 762.2,95 748,101" fill="#b6d0df"/>
<polygon points="718,54 727,50 735,80 726,84" fill="#d5e7ef"/>
<g transform="translate(0,339.5) scale(1,-1)"><path d="M647,68 L693,43.4 Q710,40 720,45 L740,56 L749.7,82.5 L729,93.4 L700,90 L665,95 L649,87 Z" fill="#eef6f9" stroke="#a9c9da" stroke-width="1.5"/>
<polygon points="631.7,45.8 651.25,53.6 663.75,45.8 673.1,55.2 659,66.9 646.6,79.4 632.5,60.6" fill="#a6c7da"/>
<polygon points="651.25,53.6 663.75,45.8 673.1,55.2 659,66.9" fill="#8fb6cf"/>
<line x1="670" y1="59.8" x2="684.8" y2="82.5" stroke="#24446a" stroke-width="2"/>
<circle cx="664" cy="82.5" r="7.5" fill="#fff" stroke="#2d4a6c" stroke-width="1.6"/>
<circle cx="707.5" cy="66" r="7.5" fill="#fff" stroke="#2d4a6c" stroke-width="1.6"/>
<polygon points="741.9,74.7 754.4,73 762.2,95 748,101" fill="#b6d0df"/>
<polygon points="718,54 727,50 735,80 726,84" fill="#d5e7ef"/></g>
<ellipse cx="664" cy="258" rx="16" ry="14" fill="#cfe3ec" opacity="0.7"/>
<circle cx="664" cy="257.5" r="7.5" fill="#fff" stroke="#2d4a6c" stroke-width="1.6"/>
<path d="M816,48 Q816,45 820,45 L878,45 L879,160 L864.8,166 L863,170.4 L841.5,171 L833.2,163 L816.6,163 Z" fill="#e3eef4" stroke="#a9c9da" stroke-width="1"/>
<linearGradient id="gt" x1="0" y1="0" x2="0" y2="1"><stop offset="0" stop-color="#c2d9e6"/><stop offset="1" stop-color="#dbe9f0"/></linearGradient>
<rect x="816.6" y="45" width="62.3" height="31.5" rx="3" fill="url(#gt)"/>
<radialGradient id="gb" cx="0.7" cy="0.3" r="0.8"><stop offset="0" stop-color="#b5cfe0"/><stop offset="0.6" stop-color="#7ea6c6"/><stop offset="1" stop-color="#3d6c98"/></radialGradient>
<path d="M871.4,60 Q880,56 895,57 Q918.7,60 918.7,80 Q918.7,98 902,100 L903,109 L884,109 Q871.4,95 871.4,80 Z" fill="url(#gb)"/>
<circle cx="902" cy="76.5" r="5" fill="#2c5078"/><circle cx="902" cy="76.5" r="2.3" fill="#fff"/>
<circle cx="893.8" cy="117" r="10.5" fill="#9dbfd6"/><rect x="887" y="110" width="14" height="14" rx="5" fill="#1e3556"/><rect x="887" y="115.5" width="14" height="2.5" fill="#fff"/>
<rect x="831.5" y="70" width="46.5" height="3.5" fill="#fff"/><circle cx="824" cy="69.9" r="3" fill="#fff"/>
<rect x="816.6" y="77" width="42" height="46" fill="#eef6f9"/>
<rect x="836.5" y="87.3" width="5.8" height="19.9" fill="#8db2cc"/>
<line x1="860.6" y1="48" x2="860.6" y2="146" stroke="#2a4669" stroke-width="1.6"/>
<line x1="816.6" y1="123.9" x2="860.6" y2="123.9" stroke="#2a4669" stroke-width="1.6"/>
<polyline points="816.6,163 833.2,163 841.5,171 863,170.4 864.8,166" fill="none" stroke="#1e3556" stroke-width="2"/>
<line x1="841.5" y1="171" x2="843" y2="179" stroke="#1e3556" stroke-width="2"/>
<path d="M816.6,108 Q806,112 806.6,131 Q806,152 816.6,154.6 Z" fill="#6f99bf"/>
<rect x="807" y="120" width="9.6" height="2.5" fill="#2f5580"/><rect x="807" y="137" width="9.6" height="2.5" fill="#2f5580"/>
<circle cx="834.7" cy="141.9" r="12" fill="#f3f8fa" stroke="#d4e5ee" stroke-width="2"/>
<circle cx="868" cy="152" r="9" fill="#e6f0f5" stroke="#d0e3ec" stroke-width="1"/>
<rect x="882" y="150" width="4" height="14" fill="#7ea6c4"/>
<rect x="836" y="180" width="12" height="9" fill="#d6e8ef"/>
<path d="M942,50 L990,44 L994,214 L937.7,214 L937.7,60 Z" fill="#f6fafc" stroke="#d2e5ed" stroke-width="1.2"/>
<rect x="941.8" y="48" width="15" height="68" rx="7" fill="#dfeef4" stroke="#c3dbe6" stroke-width="1"/>
<rect x="943" y="140" width="12" height="35" rx="6" fill="#e4f0f5" stroke="#c9dee8" stroke-width="1"/>
<line x1="974.6" y1="46" x2="974.6" y2="200" stroke="#b4d0de" stroke-width="1.5"/>
<rect x="961.3" y="83.3" width="13.3" height="18.5" fill="#1e3556"/>
<rect x="961.3" y="149" width="13.3" height="17.4" fill="#1e3556"/>
<rect x="917" y="171.5" width="21.7" height="12.3" fill="#a9c6d8"/><rect x="919" y="173" width="6" height="9.5" fill="#26456c"/><rect x="931.5" y="173" width="7" height="9.5" fill="#26456c"/>
<path d="M806,252 Q808,247 820,247.2 L970,247.2 Q990,250 999,264 L999,282 Q990,296 970,303 L820,303 Q806,302 803.6,296 Z" fill="#f0f7fa" stroke="#c0d8e4" stroke-width="1.5"/>
<path d="M820,248.5 L968,248.5 Q985,252 992,262 L820,262 Z" fill="#d9e9f1"/>
<path d="M820,289 L992,289 Q985,299 968,301.5 L820,301.5 Z" fill="#d9e9f1"/>
<path d="M868,247 Q870,226 893,225.7 Q917,226 919.6,247 Z" fill="#b6d1e0"/>
<rect x="884" y="230" width="6.6" height="9.7" fill="#1e3556"/><rect x="897" y="230" width="6.5" height="9.7" fill="#1e3556"/>
<path d="M868,303 Q890,311 911,303 Z" fill="#cfe2ec"/>
<rect x="803.6" y="250" width="12" height="50" fill="#d3e6ee"/><rect x="807" y="258" width="6" height="7" fill="#fff"/><rect x="807" y="284" width="6" height="7" fill="#fff"/>
<rect x="828.3" y="251.5" width="28" height="5.5" rx="2.7" fill="#2a4a70"/><rect x="828.3" y="293.4" width="28" height="5.4" rx="2.7" fill="#2a4a70"/>
<rect x="936" y="251.5" width="26" height="5" rx="2.5" fill="#b6d0df"/>
<line x1="894.3" y1="247" x2="894.3" y2="267" stroke="#1e3556" stroke-width="1.8"/><line x1="894.3" y1="283" x2="894.3" y2="303" stroke="#1e3556" stroke-width="1.8"/>
<rect x="904.6" y="268.7" width="18.2" height="11.8" fill="#1e3556"/>
<linearGradient id="gq" x1="0" y1="0" x2="1" y2="0"><stop offset="0" stop-color="#4f7aa3"/><stop offset="1" stop-color="#c5dbe7"/></linearGradient>
<rect x="953" y="268.7" width="18" height="10.8" fill="url(#gq)"/>
<line x1="853" y1="279.5" x2="999" y2="279.5" stroke="#6f98ba" stroke-width="1.2"/>
<line x1="972.2" y1="250.5" x2="972.2" y2="266.6" stroke="#1e3556" stroke-width="1.8"/><line x1="972.2" y1="281.6" x2="972.2" y2="296.6" stroke="#1e3556" stroke-width="1.8"/>
<path d="M820,324.6 L970,324.6 Q990,330 999,344 L999,360 Q990,375 970,380.4 L820,380.4 Q808,380 806,372 Z" fill="#f0f7fa" stroke="#c0d8e4" stroke-width="1.5"/>
<path d="M820,326 L968,326 Q985,330 992,340 L820,340 Z" fill="#d9e9f1"/>
<path d="M820,366 L992,366 Q985,376 968,379 L820,379 Z" fill="#d9e9f1"/>
<rect x="803.6" y="334" width="16" height="40" fill="#d0e4ed"/><rect x="808" y="340" width="6" height="6" fill="#fff"/><rect x="808" y="362" width="6" height="6" fill="#fff"/>
<path d="M868,325 Q870,316 893,316 Q917,316 919.6,325 Z" fill="#b6d1e0"/>
<path d="M868,380.4 L919.6,380.4 Q917,399.8 893,399.8 Q870,399.8 868,380.4 Z" fill="#b6d1e0"/>
<rect x="884" y="385" width="6.6" height="10" fill="#1e3556"/><rect x="897" y="385" width="6.5" height="10" fill="#1e3556"/>
<rect x="828.3" y="328" width="28" height="5" rx="2.5" fill="#4f77a0"/><rect x="828.3" y="372" width="28" height="5" rx="2.5" fill="#4f77a0"/>
<rect x="936" y="328" width="26" height="5" rx="2.5" fill="#b6d0df"/>
<circle cx="843" cy="354" r="13" fill="#fff"/>
<linearGradient id="gs" x1="0" y1="0" x2="1" y2="0"><stop offset="0.7" stop-color="#1e3556"/><stop offset="1" stop-color="#d0e2ec"/></linearGradient>
<rect x="853" y="347" width="92.4" height="16.2" fill="url(#gs)"/>
<rect x="861" y="347" width="2.5" height="16" fill="#fff"/><rect x="868" y="347" width="4" height="16" fill="#fff"/><rect x="891" y="347" width="4" height="16" fill="#fff"/><rect x="900" y="347" width="3" height="16" fill="#fff"/>
<line x1="894.3" y1="324" x2="894.3" y2="380" stroke="#1e3556" stroke-width="1.8"/>
<ellipse cx="975" cy="352" rx="20" ry="13" fill="#fff"/>
<path d="M991,348 Q997,352 991,357 Z" fill="#1e3556"/>
<line x1="972.2" y1="330" x2="972.2" y2="338" stroke="#1e3556" stroke-width="1.8"/><line x1="972.2" y1="366" x2="972.2" y2="373" stroke="#1e3556" stroke-width="1.8"/>
<rect x="792" y="212" width="22" height="22" fill="#cfe2ec"/><polygon points="796,230 806,216 811,232" fill="#fff" stroke="#8fb0c6" stroke-width="1"/>
<rect x="540" y="343" width="92" height="89" rx="6" fill="#f3f9fb" stroke="#cfe3ec" stroke-width="1.5"/>
<linearGradient id="gm" x1="0" y1="0" x2="0" y2="1"><stop offset="0" stop-color="#5d8bb2"/><stop offset="1" stop-color="#a6c5d9"/></linearGradient>
<linearGradient id="gm2" x1="0" y1="1" x2="0" y2="0"><stop offset="0" stop-color="#6c97bb"/><stop offset="1" stop-color="#b2cfe0"/></linearGradient>
<path d="M612.5,342 L643,342 Q653.5,342 653.5,352 L653.5,366 L612.5,366 Z" fill="url(#gm)"/>
<path d="M612.5,407 L653.5,407 L653.5,420 Q653.5,430 643,430 L612.5,430 Z" fill="url(#gm2)"/>
<rect x="629" y="365" width="43.7" height="44" fill="#a6c4d8"/>
<rect x="629" y="365" width="12" height="44" fill="#c9dde8"/>
<rect x="653" y="368" width="11" height="11" fill="#fff"/><rect x="656" y="369" width="7" height="10" fill="#2a4a6a"/>
<rect x="672" y="389" width="2.5" height="9" fill="#2a4a6a"/>
<rect x="538" y="387" width="2.5" height="9" fill="#3c6488"/><rect x="538" y="390" width="8" height="2" fill="#3c6488"/>
<rect x="556" y="345" width="20" height="5" fill="#a9c7da"/>
<rect x="597" y="413" width="12" height="6" fill="#4d7197"/>
<rect x="560.5" y="491" width="115" height="89" rx="10" fill="#eef6f9" stroke="#d2e5ed" stroke-width="1.5"/>
<rect x="560.5" y="491" width="115" height="8" rx="4" fill="#d7e8ef"/>
<rect x="543" y="514.5" width="21" height="5" fill="#e6f1f5" stroke="#d0e3eb" stroke-width="0.8"/>
<rect x="551" y="519.7" width="7.7" height="13.3" fill="#a8c8d8"/>
<rect x="539.5" y="538" width="23" height="21" fill="#e6f1f5" stroke="#d0e3eb" stroke-width="0.8"/>
<rect x="539.5" y="543.6" width="4" height="9.4" fill="#3a5f85"/>
<line x1="548.8" y1="538.8" x2="674" y2="538.8" stroke="#1e3556" stroke-width="1.5"/>
<rect x="590.6" y="529" width="46.4" height="22" fill="#fbfdfe" stroke="#dbe9f0" stroke-width="1"/>
<circle cx="613.9" cy="516.9" r="5" fill="#152a45"/><circle cx="613.9" cy="560.6" r="5.5" fill="#152a45"/>
<rect x="675" y="527" width="3" height="20" fill="#2a4a6a"/>
<path d="M712,335 Q715,329 725,329 L750,329 Q762,330 764.9,340 L764.9,570 Q762,576 750,576.3 L722,576.3 Q710,575 709.3,566 L709.3,345 Z" fill="#f2f8fb" stroke="#c9dee8" stroke-width="1.5"/>
<rect x="729.8" y="326" width="13.2" height="13" fill="#7ba3c5"/>
<rect x="729.8" y="354" width="13.2" height="210.6" rx="5" fill="#1a2f4f"/>
<rect x="732.5" y="358" width="7.5" height="18" rx="3.5" fill="#fff"/>
<rect x="732.5" y="384.6" width="7.5" height="22.0" rx="3.5" fill="#fff"/>
<rect x="732.5" y="512" width="7.5" height="20" rx="3.5" fill="#fff"/>
<rect x="732.5" y="541" width="7.5" height="20.700000000000045" rx="3.5" fill="#fff"/>
<polyline points="731,420 742,410 731,460 742,450 731,495 742,490 731,505" fill="none" stroke="#5a80a8" stroke-width="1"/>
<rect x="719.5" y="378.8" width="7.3" height="26.2" rx="3.6" fill="#1a2f4f"/>
<circle cx="722" cy="421.5" r="9.5" fill="#fff"/><circle cx="722" cy="421.5" r="8" fill="#101e33"/><circle cx="723.5" cy="441.2" r="4.3" fill="#101e33"/>
<line x1="758" y1="345" x2="758" y2="565" stroke="#cfe2eb" stroke-width="1.2"/>
<rect x="731" y="578" width="11" height="6" fill="#c9dee8"/>
<line x1="715" y1="345" x2="715" y2="565" stroke="#d8e8ef" stroke-width="1.2"/>
<path d="M707.8,433 L707.8,474 L692,474 Q684.4,470 684.4,453 Q684.4,436 692,433 Z" fill="#a9c7da"/><rect x="688" y="445" width="12" height="14" fill="#d6e7ef"/>
<path d="M816.5,452 Q818,445 830,445 L870,445 Q878.8,447 878.8,460 L878.8,580.5 L816.5,580.5 Z" fill="#e6f0f5" stroke="#a9c9da" stroke-width="1"/>
<rect x="837" y="434" width="14" height="12" fill="#a9c6d8"/>
<path d="M817.5,452 Q819,446 830,446 L870,446 Q877.8,448 877.8,460 L877.8,466 L817.5,466 Z" fill="#c9dde8"/>
<path d="M816.5,473 Q804,480 804.7,495 Q804,512 816.5,517 Z" fill="#8fb4cf"/><rect x="805" y="491" width="10" height="6" fill="#4a7199"/>
<rect x="805" y="461" width="12" height="8" fill="#a3c3d8"/>
<polyline points="816.5,466.6 833.7,466.6 843.3,453.7 843.3,446" fill="none" stroke="#2a4669" stroke-width="1.6"/>
<polyline points="843.3,460 864,460 866,464.5" fill="none" stroke="#2a4669" stroke-width="1.6"/>
<line x1="861.6" y1="483.8" x2="861.6" y2="578" stroke="#2a4669" stroke-width="1.6"/>
<line x1="816.5" y1="508.5" x2="861.6" y2="508.5" stroke="#2a4669" stroke-width="1.6"/>
<circle cx="834.7" cy="491.4" r="11" fill="#f3f8fa" stroke="#cfe2ec" stroke-width="2"/>
<path d="M829,490 L834.7,495 L840.4,490" fill="none" stroke="#3a5f85" stroke-width="1.5"/>
<circle cx="835.3" cy="521.3" r="2.5" fill="#1e3556"/><rect x="835.8" y="526.8" width="6.5" height="21.4" fill="#8db2cc"/>
<rect x="820" y="553" width="60" height="3" fill="#fff"/>
<circle cx="868" cy="475" r="9" fill="#e1edf3" stroke="#cfe2ec" stroke-width="1"/>
<rect x="882" y="466.6" width="7.5" height="12.9" fill="#7ea6c4"/>
<path d="M883,518 L901.3,518 L901.3,532 Q918.5,536 918.5,550 Q918.5,571.9 895,571.9 Q872.3,571.9 872.3,550 Q872.3,534 883,532 Z" fill="#d2e4ed"/>
<circle cx="902.4" cy="551.5" r="4.5" fill="#2f5680"/><circle cx="884" cy="546" r="1.2" fill="#1e3556"/>
<path d="M940,411 L960,411 L960,420 L975,420 L975,411 L996,411 L996,589 L940,589 Z" fill="#f4f9fb" stroke="#cfe3ec" stroke-width="1.2"/>
<path d="M940,411 L960,411 L960,420 L975,420 L975,411 L996,411 L996,455 Q985,470 975,463 L975,430 L958,430 L958,465 L940,465 Z" fill="#c6dce7"/>
<rect x="958" y="425" width="18" height="5" fill="#fff"/>
<rect x="919.6" y="442" width="21.4" height="21.4" fill="#b3cfdf"/><rect x="921.8" y="445" width="6.2" height="15" fill="#26456c"/><rect x="932.5" y="445" width="7.5" height="15" fill="#26456c"/>
<rect x="963.7" y="464.5" width="12.8" height="18.2" fill="#1e3556"/>
<path d="M951.8,529 L988.4,529 Q988,546 970,548 Q952,546 951.8,529 Z" fill="#3a6590"/><rect x="951.8" y="529" width="36.6" height="3" fill="#2a4e78"/>
<line x1="970" y1="548" x2="970" y2="585" stroke="#c0d8e4" stroke-width="1.5"/>
<rect x="948" y="468" width="10" height="30" rx="5" fill="#e3eff4" stroke="#cfe2eb" stroke-width="1"/>
<rect x="768" y="584" width="12" height="12" fill="#d0e3ec"/>
<rect x="827" y="585" width="12" height="12" fill="#d0e3ec"/>
<rect x="925" y="582" width="12" height="12" fill="#d0e3ec"/>
</g>
<g id="bottom">
<rect x="92.5" y="692.5" width="32.5" height="38.5" fill="#fbfcfc" stroke="#e2e6e8" stroke-width="1.2"/><rect x="96.5" y="699.5" width="9" height="3.6" rx="1" fill="#2b3033"/><rect x="96.5" y="710.5" width="9" height="3.6" rx="1" fill="#2b3033"/><rect x="96.5" y="721" width="9" height="3.6" rx="1" fill="#2b3033"/>
<rect x="125" y="701" width="570" height="5" fill="#e3171c"/>
<rect x="125" y="718" width="570" height="5.5" fill="#101010"/>
<rect x="547" y="715.5" width="77" height="10.5" rx="4" fill="#1b1b1b"/>
<rect x="571" y="714" width="24" height="13.7" rx="3" fill="#222"/>
<rect x="693.75" y="660.5" width="219.25" height="103.25" fill="#0b0b0b"/>
<rect x="700" y="667" width="207" height="91" fill="#0a0a0b"/>
<rect x="700" y="713.5" width="207" height="2.5" fill="#1a1b1d"/>
<circle cx="741" cy="702" r="5.8" fill="#fff"/><circle cx="803" cy="712.5" r="5.8" fill="#fff"/><circle cx="865" cy="723" r="5.8" fill="#fff"/>
<path d="M870,702 L872.0,672 L874.1,702 L878.8,672 L880.9,702 L885.6,672 L887.7,702 L892.4,672 L894.5,702 L899.2,672 L901.3,702" fill="none" stroke="#c8c8c8" stroke-width="1.3"/>
<path d="M702,752.5 L704.0,722.5 L706.1,752.5 L710.8,722.5 L712.9,752.5 L717.6,722.5 L719.7,752.5 L724.4,722.5 L726.5,752.5 L731.2,722.5 L733.3,752.5" fill="none" stroke="#c8c8c8" stroke-width="1.3"/>
<rect x="701.5" y="699" width="6" height="7" fill="#fff" stroke="#c33" stroke-width="1"/>
<rect x="701.5" y="716" width="5" height="5" fill="#ddd"/>
<line x1="703" y1="676" x2="703" y2="694" stroke="#aaa" stroke-width="1"/><line x1="905" y1="731" x2="905" y2="749" stroke="#aaa" stroke-width="1"/>
<circle cx="128.75" cy="790" r="23.5" fill="none" stroke="#3a3a3a" stroke-width="9.5"/>
<circle cx="203.25" cy="790" r="23.5" fill="none" stroke="#3a3a3a" stroke-width="9.5"/>
<circle cx="277.5" cy="790" r="23.5" fill="none" stroke="#3a3a3a" stroke-width="9.5"/>
<circle cx="352.5" cy="790" r="23.5" fill="none" stroke="#3a3a3a" stroke-width="9.5"/>
<linearGradient id="bm" x1="0" y1="0" x2="0" y2="1"><stop offset="0" stop-color="#1d4fd6"/><stop offset="0.22" stop-color="#2a63ea"/><stop offset="0.33" stop-color="#8cc6ff"/><stop offset="0.43" stop-color="#3f7cf2"/><stop offset="0.6" stop-color="#1f52da"/><stop offset="1" stop-color="#163cbf"/></linearGradient>
<linearGradient id="bb" x1="0" y1="0" x2="0" y2="1"><stop offset="0" stop-color="#2458de"/><stop offset="0.3" stop-color="#2c68ea"/><stop offset="0.8" stop-color="#2761e4"/><stop offset="1" stop-color="#1d4ccf"/></linearGradient>
<rect x="455" y="765.5" width="62" height="35.7" rx="5" fill="url(#bm)"/>
<path d="M515.6,765 L547,765 L557,768 L557,800 L547,802.6 L515.6,802.6 Z" fill="url(#bb)"/>
<rect x="557" y="762" width="15.7" height="44" rx="1.5" fill="url(#bb)"/>
<rect x="572.7" y="762.5" width="16.3" height="42.3" fill="#fff" stroke="#d8dde2" stroke-width="1"/>
<rect x="107.5" y="835" width="91.5" height="4" fill="#50656b"/>
<rect x="107.5" y="833.5" width="91.5" height="1.5" fill="#e9eeef"/>
<rect x="107.5" y="854" width="91.5" height="4" fill="#50656b"/>
<rect x="107.5" y="852.5" width="91.5" height="1.5" fill="#e9eeef"/>
<rect x="107.5" y="874" width="91.5" height="4" fill="#50656b"/>
<rect x="107.5" y="872.5" width="91.5" height="1.5" fill="#e9eeef"/>
<rect x="312.5" y="840" width="32.5" height="37.5" fill="#fbfcfc" stroke="#e2e6e8" stroke-width="1.2"/><rect x="316.5" y="847.5" width="9" height="3.6" rx="1" fill="#2b3033"/><rect x="316.5" y="857.5" width="9" height="3.6" rx="1" fill="#2b3033"/><rect x="316.5" y="867.5" width="9" height="3.6" rx="1" fill="#2b3033"/>
<path d="M345,850.5 L700,849.5 L763,846.5" fill="none" stroke="#e3171c" stroke-width="5"/>
<path d="M345,868 L700,867.5 L763,869.5" fill="none" stroke="#101010" stroke-width="5"/>
<rect x="763" y="796" width="150" height="125" fill="#08080c"/>
<linearGradient id="sp" x1="0" y1="0" x2="1" y2="0"><stop offset="0" stop-color="#020210"/><stop offset="0.25" stop-color="#04042c"/><stop offset="0.45" stop-color="#08087e"/><stop offset="0.6" stop-color="#0b0ba2"/><stop offset="1" stop-color="#0c10ae"/></linearGradient>
<rect x="770" y="804" width="137.5" height="25" fill="url(#sp)"/>
<rect x="770" y="834" width="137.5" height="23.5" fill="url(#sp)"/>
<rect x="770" y="862.5" width="137.5" height="23.5" fill="url(#sp)"/>
<rect x="770" y="891" width="137.5" height="24" fill="url(#sp)"/>
<rect x="104" y="917.5" width="176" height="3" fill="#5d7076"/>
<rect x="239" y="897.5" width="5.5" height="42.5" fill="#2b1fe6"/>
<rect x="234" y="914" width="16" height="8.5" rx="2" fill="#2b1fe6"/>
<rect x="104" y="953.5" width="176" height="4.5" fill="#8fa0a6"/><rect x="104" y="955" width="176" height="2" fill="#5d7076"/>
<linearGradient id="sh3" x1="0" y1="0" x2="1" y2="0"><stop offset="0" stop-color="#111"/><stop offset="0.25" stop-color="#555"/><stop offset="0.5" stop-color="#cfd6d8"/><stop offset="0.8" stop-color="#444"/><stop offset="1" stop-color="#111"/></linearGradient>
<polygon points="104,987.5 265,990 265,995 104,992.5" fill="url(#sh3)"/>
<polygon points="399.50,928.80 395.82,930.95 399.16,933.61 395.21,935.22 398.13,938.32 394.00,939.35 396.45,942.84 392.21,943.27 394.13,947.07 389.88,946.90 391.24,950.93 387.05,950.15 387.83,954.34 383.80,952.98 383.97,957.23 380.17,955.31 379.74,959.55 376.25,957.10 375.22,961.23 372.12,958.31 370.51,962.26 367.85,958.92 365.70,962.60 363.55,958.92 360.89,962.26 359.28,958.31 356.18,961.23 355.15,957.10 351.66,959.55 351.23,955.31 347.43,957.23 347.60,952.98 343.57,954.34 344.35,950.15 340.16,950.93 341.52,946.90 337.27,947.07 339.19,943.27 334.95,942.84 337.40,939.35 333.27,938.32 336.19,935.22 332.24,933.61 335.58,930.95 331.90,928.80 335.58,926.65 332.24,923.99 336.19,922.38 333.27,919.28 337.40,918.25 334.95,914.76 339.19,914.33 337.27,910.53 341.52,910.70 340.16,906.67 344.35,907.45 343.57,903.26 347.60,904.62 347.43,900.37 351.23,902.29 351.66,898.05 355.15,900.50 356.18,896.37 359.28,899.29 360.89,895.34 363.55,898.68 365.70,895.00 367.85,898.68 370.51,895.34 372.12,899.29 375.22,896.37 376.25,900.50 379.74,898.05 380.17,902.29 383.97,900.37 383.80,904.62 387.83,903.26 387.05,907.45 391.24,906.67 389.88,910.70 394.13,910.53 392.21,914.33 396.45,914.76 394.00,918.25 398.13,919.28 395.21,922.38 399.16,923.99 395.82,926.65" fill="#d8d05a"/><circle cx="365.7" cy="928.8" r="30.999999999999996" fill="#ece646"/><circle cx="365.7" cy="928.8" r="31.799999999999997" fill="none" stroke="#8f8b66" stroke-width="3.2" stroke-dasharray="2.271 2.271"/><polygon points="376.70,925.80 374.20,928.08 375.23,931.30 371.92,932.02 371.20,935.33 367.98,934.30 365.70,936.80 363.42,934.30 360.20,935.33 359.48,932.02 356.17,931.30 357.20,928.08 354.70,925.80 357.20,923.52 356.17,920.30 359.48,919.58 360.20,916.27 363.42,917.30 365.70,914.80 367.98,917.30 371.20,916.27 371.92,919.58 375.23,920.30 374.20,923.52" fill="#f4ee2e" stroke="#dcd236" stroke-width="0.8"/><ellipse cx="361.7" cy="934.8" rx="9" ry="6" fill="#e0d63e" opacity="0.6"/><circle cx="365.7" cy="925.8" r="4.4" fill="#6f6a3a"/><circle cx="365.7" cy="926.5999999999999" r="3.3" fill="#fff"/>
<polygon points="488.30,928.80 484.62,930.95 487.96,933.61 484.01,935.22 486.93,938.32 482.80,939.35 485.25,942.84 481.01,943.27 482.93,947.07 478.68,946.90 480.04,950.93 475.85,950.15 476.63,954.34 472.60,952.98 472.77,957.23 468.97,955.31 468.54,959.55 465.05,957.10 464.02,961.23 460.92,958.31 459.31,962.26 456.65,958.92 454.50,962.60 452.35,958.92 449.69,962.26 448.08,958.31 444.98,961.23 443.95,957.10 440.46,959.55 440.03,955.31 436.23,957.23 436.40,952.98 432.37,954.34 433.15,950.15 428.96,950.93 430.32,946.90 426.07,947.07 427.99,943.27 423.75,942.84 426.20,939.35 422.07,938.32 424.99,935.22 421.04,933.61 424.38,930.95 420.70,928.80 424.38,926.65 421.04,923.99 424.99,922.38 422.07,919.28 426.20,918.25 423.75,914.76 427.99,914.33 426.07,910.53 430.32,910.70 428.96,906.67 433.15,907.45 432.37,903.26 436.40,904.62 436.23,900.37 440.03,902.29 440.46,898.05 443.95,900.50 444.98,896.37 448.08,899.29 449.69,895.34 452.35,898.68 454.50,895.00 456.65,898.68 459.31,895.34 460.92,899.29 464.02,896.37 465.05,900.50 468.54,898.05 468.97,902.29 472.77,900.37 472.60,904.62 476.63,903.26 475.85,907.45 480.04,906.67 478.68,910.70 482.93,910.53 481.01,914.33 485.25,914.76 482.80,918.25 486.93,919.28 484.01,922.38 487.96,923.99 484.62,926.65" fill="#d8d05a"/><circle cx="454.5" cy="928.8" r="30.999999999999996" fill="#ece646"/><circle cx="454.5" cy="928.8" r="31.799999999999997" fill="none" stroke="#8f8b66" stroke-width="3.2" stroke-dasharray="2.271 2.271"/><polygon points="465.50,925.80 463.00,928.08 464.03,931.30 460.72,932.02 460.00,935.33 456.78,934.30 454.50,936.80 452.22,934.30 449.00,935.33 448.28,932.02 444.97,931.30 446.00,928.08 443.50,925.80 446.00,923.52 444.97,920.30 448.28,919.58 449.00,916.27 452.22,917.30 454.50,914.80 456.78,917.30 460.00,916.27 460.72,919.58 464.03,920.30 463.00,923.52" fill="#f4ee2e" stroke="#dcd236" stroke-width="0.8"/><ellipse cx="450.5" cy="934.8" rx="9" ry="6" fill="#e0d63e" opacity="0.6"/><circle cx="454.5" cy="925.8" r="4.4" fill="#6f6a3a"/><circle cx="454.5" cy="926.5999999999999" r="3.3" fill="#fff"/>
<rect x="538" y="915.5" width="37" height="21.5" fill="#f6f3cb"/>
<rect x="589" y="915.5" width="37" height="21.5" fill="#f6f3cb"/>
<rect x="640" y="915.5" width="37.5" height="21.5" fill="#f6f3cb"/>
<rect x="343.4" y="987.3" width="22" height="16.4" rx="1.5" fill="#f0d818"/><rect x="345" y="994" width="18" height="2" fill="#d8b810"/>
<rect x="430" y="988" width="22" height="18" rx="2" fill="#1c6cf2"/>
<rect x="610" y="974" width="30" height="2.4" fill="#7d8a90"/>
<linearGradient id="smm" x1="0" y1="0" x2="0" y2="1"><stop offset="0" stop-color="#e8eef0"/><stop offset="0.45" stop-color="#fafcfc"/><stop offset="0.55" stop-color="#1e2c33"/><stop offset="1" stop-color="#9fb0b8"/></linearGradient>
<rect x="639.4" y="961" width="50" height="24.6" rx="2" fill="url(#smm)"/>
<path d="M689,967 L760,967.5 L830,966" fill="none" stroke="#e3171c" stroke-width="2.6"/>
<path d="M689,980 L760,980 L830,980.5" fill="none" stroke="#151515" stroke-width="2.6"/>
<rect x="847.5" y="944" width="58.5" height="59.75" fill="#d7a624"/>
<rect x="850" y="952.5" width="19" height="42.5" fill="#fafafa" stroke="#e0e0e0" stroke-width="0.8"/>
<rect x="877.5" y="952.5" width="23.5" height="42.5" fill="#f5f7f8" stroke="#dcdcdc" stroke-width="0.8"/>
<rect x="882" y="957" width="14" height="33" fill="#dfe6e9"/>
<rect x="830" y="956" width="20" height="34" fill="#fbfbfb" stroke="#e4e4e4" stroke-width="0.8"/>
<rect x="860" y="958" width="6" height="28" fill="#333"/>
</g>
</svg>
</body></html>
